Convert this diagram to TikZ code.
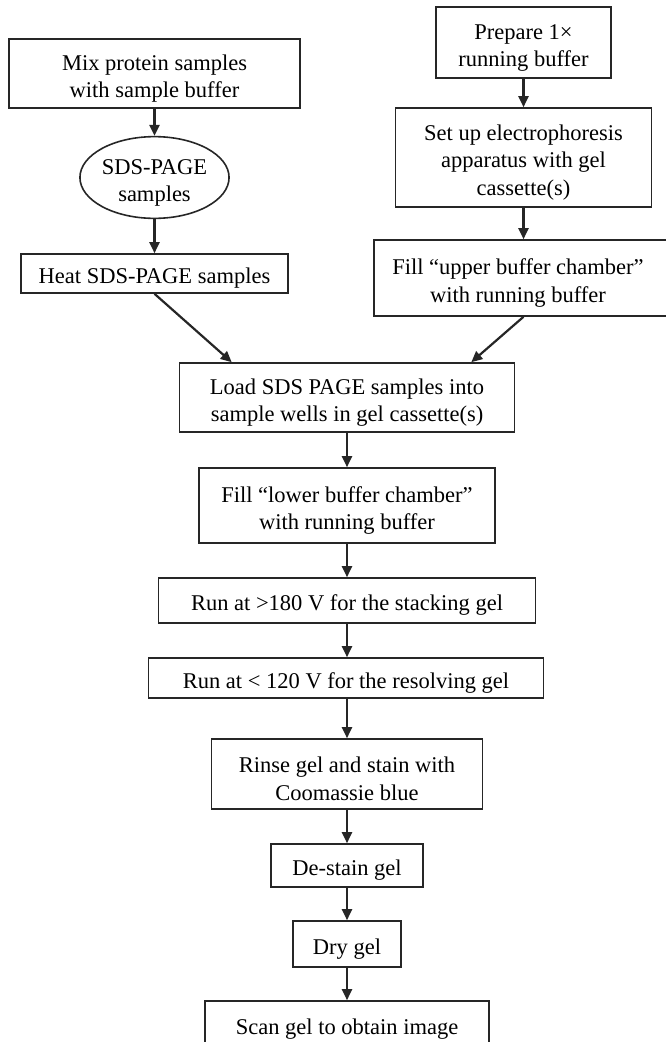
\documentclass[tikz,border=0pt]{standalone}
\usepackage{fontspec}
\setmainfont{Liberation Serif}
\usetikzlibrary{arrows.meta,shapes.geometric}
\newcommand{\fs}{\rule{0pt}{25.5pt}}
\begin{document}
\begin{tikzpicture}[x=1pt,y=-1pt,
  txt/.style={align=center,inner sep=0pt,font=\fontsize{22.5}{27.5}\selectfont},
  box/.style={draw=black!85,line width=1.6pt,rectangle,txt},
  oval/.style={draw=black!85,line width=1.6pt,ellipse,txt},
  flow/.style={draw=black!85,line width=2.2pt,-{Triangle[length=11pt,width=10pt]}}]
\useasboundingbox (0,0) rectangle (666,1042);
\clip (0,0) rectangle (666,1042);
% left column
\node[box,minimum width=291,minimum height=69] (mix) at (154.5,73.5) {\fs Mix protein samples\\with sample buffer};
\node[oval,minimum width=144,minimum height=81] (sds) at (154.5,177.5) {\fs SDS-PAGE\\samples};
\node[box,minimum width=267,minimum height=39] (heat) at (154.5,273.5) {\fs Heat SDS-PAGE samples};
% right column
\node[box,minimum width=175,minimum height=71] (prep) at (523.5,42.5) {\fs Prepare 1×\\running buffer};
\node[box,minimum width=256,minimum height=99] (setup) at (523.5,157.5) {\fs Set up electrophoresis\\apparatus with gel\\cassette(s)};
\node[box,minimum width=296,minimum height=76] (fillup) at (522,278) {\fs\hspace*{-8pt}Fill “upper buffer chamber”\\\hspace*{-8pt}with running buffer};
% center column
\node[box,minimum width=335,minimum height=69] (load) at (347,397.5) {\fs Load SDS PAGE samples into\\sample wells in gel cassette(s)};
\node[box,minimum width=296,minimum height=75] (filllow) at (347,505.5) {\fs Fill “lower buffer chamber”\\with running buffer};
\node[box,minimum width=377,minimum height=45] (run180) at (347,600.5) {\fs Run at >180 V for the stacking gel};
\node[box,minimum width=395,minimum height=40] (run120) at (346,678) {\fs Run at < 120 V for the resolving gel};
\node[box,minimum width=271,minimum height=70] (rinse) at (347,774) {\fs Rinse gel and stain with\\Coomassie blue};
\node[box,minimum width=152,minimum height=43] (destain) at (347,865.5) {\fs De-stain gel};
\node[box,minimum width=108,minimum height=46] (dry) at (347,944) {\fs Dry gel};
\node[box,minimum width=284,minimum height=46] (scan) at (347,1024) {\fs Scan gel to obtain image};
% connectors
\draw[flow] (mix) -- (sds);
\draw[flow] (sds) -- (heat);
\draw[flow] (prep) -- (setup);
\draw[flow] (setup) -- (setup.south |- fillup.north);
\draw[flow] (heat.south) -- ([xshift=53pt]load.north west);
\draw[flow] (setup.south |- fillup.south) -- ([xshift=-44pt]load.north east);
\draw[flow] (load) -- (filllow);
\draw[flow] (filllow) -- (run180);
\draw[flow] (run180) -- (run180.south |- run120.north);
\draw[flow] (run180.south |- run120.south) -- (rinse);
\draw[flow] (rinse) -- (destain);
\draw[flow] (destain) -- (dry);
\draw[flow] (dry) -- (scan);
\end{tikzpicture}
\end{document}
